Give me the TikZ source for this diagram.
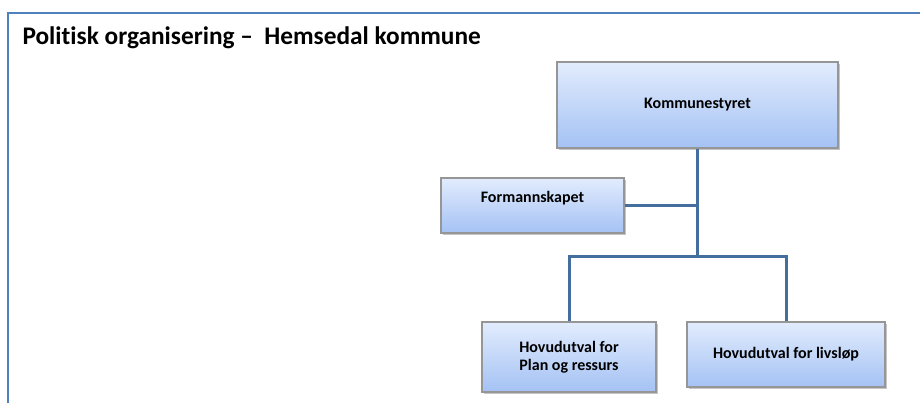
\documentclass[tikz,border=0pt]{standalone}
\usepackage{fontspec}
\setmainfont[Ligatures=NoCommon]{Carlito}
\usetikzlibrary{shadows}

\definecolor{frameblue}{RGB}{79,129,189}
\definecolor{linkblue}{RGB}{68,110,158}
\definecolor{boxtop}{RGB}{226,236,253}
\definecolor{boxbottom}{RGB}{164,194,244}
\definecolor{boxedge}{RGB}{150,150,150}

\tikzset{every picture/.style={line width=0.75pt}}
\tikzset{
  orgbox/.style={draw=boxedge, line width=0.9pt, top color=boxtop, bottom color=boxbottom,
    drop shadow={shadow xshift=1.5pt, shadow yshift=-1.5pt, fill=black!45, opacity=0.5},
    font=\fontsize{12}{13.5}\selectfont\bfseries, align=center, inner sep=0pt},
  orglink/.style={draw=linkblue, line width=2.25pt}
}

\begin{document}
\begin{tikzpicture}[x=0.75pt,y=0.75pt,yscale=-1,xscale=1]
\useasboundingbox (0,0) rectangle (920,403);

%Frame
\draw [frameblue, line width=1.5pt] (8,403) -- (8,13) -- (920,13) ;

% Title
\node [anchor=west, inner sep=0pt, font=\fontsize{19}{22}\selectfont\bfseries] (title) at (22,38) {Politisk organisering –\ \ Hemsedal kommune};

% Boxes
\node [orgbox, minimum width=210.75pt, minimum height=64.5pt] (kst) at (697.5,105) {Kommunestyret};
\node [orgbox, minimum width=137.25pt, minimum height=41.25pt] (form) at (532.5,205.5) {Formannskapet\\[-1pt]};
\node [orgbox, minimum width=130.5pt, minimum height=52.5pt] (plan) at (569,357) {Hovudutval for\\Plan og ressurs};
\node [orgbox, minimum width=148.5pt, minimum height=48.75pt] (livs) at (786,354.5) {Hovudutval for livsløp};

% Links
\coordinate (bar) at (kst.south |- 0,256);
\begin{scope}[on background layer/.try]
\draw [orglink] (kst) -- (bar) ;
\draw [orglink] (form) -- (form -| kst) ;
\draw [orglink] (plan) |- (bar) -| (livs) ;
\end{scope}

\end{tikzpicture}
\end{document}
